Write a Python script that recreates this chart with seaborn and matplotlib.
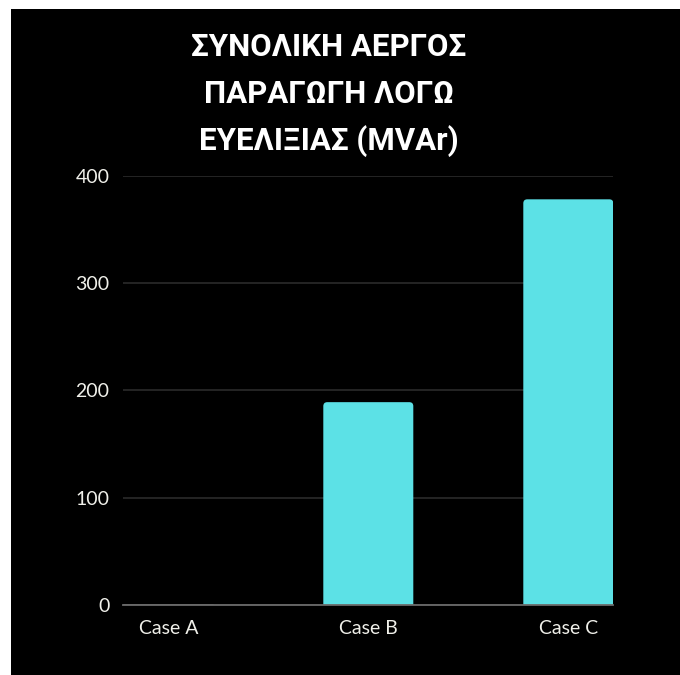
import matplotlib
matplotlib.use("Agg")
import matplotlib.pyplot as plt
from matplotlib.patches import Rectangle, PathPatch
from matplotlib.path import Path
import seaborn as sns
import pandas as pd

# ---- data ----
categories = ["Case A", "Case B", "Case C"]
values = [0, 189, 378]
y_ticks = [0, 100, 200, 300, 400]
title_lines = ["ΣΥΝΟΛΙΚΗ ΑΕΡΓΟΣ", "ΠΑΡΑΓΩΓΗ ΛΟΓΩ", "ΕΥΕΛΙΞΙΑΣ (MVAr)"]

sns.set_theme(style="dark")
plt.rcParams["font.family"] = ["Lato", "DejaVu Sans"]

W, H = 680, 675
fig = plt.figure(figsize=(W / 100, H / 100), dpi=100, facecolor="white")
bg = Rectangle((11 / W, 0), 1 - 11 / W, 1 - 9 / H, transform=fig.transFigure,
               facecolor="black", edgecolor="none", zorder=-10)
fig.patches.append(bg)

ax_left, ax_right = 123.3, 613.3
ax_bottom, ax_top = 605.0, 175.7
ax = fig.add_axes([ax_left / W, (H - ax_bottom) / H,
                   (ax_right - ax_left) / W, (ax_bottom - ax_top) / H])
ax.set_facecolor("none")

df = pd.DataFrame({"case": categories, "value": values})
sns.barplot(data=df, x="case", y="value", color="#5ce1e6", saturation=1,
            width=0.45, ax=ax, zorder=3)

ax.set_xlim(-0.225, 2.225)
ax.set_ylim(0, 400)
ax.set_yticks(y_ticks)
ax.set_xlabel("")
ax.set_ylabel("")

# rounded top corners, reshaping seaborn's own bar patches
px_x = 1 / 200.0                     # x data units per pixel
px_y = 400 / (ax_bottom - ax_top)    # y data units per pixel
rad = 4.0
rx, ry = rad * px_x, rad * px_y
for p in list(ax.patches):
    x, y = p.get_x(), p.get_y()
    w, h = p.get_width(), p.get_height()
    if h <= 0:
        continue
    p.set_visible(False)
    top = y + h
    verts = [
        (x, y), (x, top - ry),
        (x, top), (x + rx, top),
        (x + w - rx, top),
        (x + w, top), (x + w, top - ry),
        (x + w, y), (x, y),
    ]
    codes = [Path.MOVETO, Path.LINETO,
             Path.CURVE3, Path.CURVE3,
             Path.LINETO,
             Path.CURVE3, Path.CURVE3,
             Path.LINETO, Path.CLOSEPOLY]
    ax.add_patch(PathPatch(Path(verts, codes), facecolor="#5ce1e6",
                           edgecolor="none", zorder=3))

ax.yaxis.grid(True, color="#2e2e2e", linewidth=1.1)
ax.xaxis.grid(False)
ax.set_axisbelow(True)
for s in ["top", "right", "left"]:
    ax.spines[s].set_visible(False)
ax.spines["bottom"].set_color("#6b6b6b")
ax.spines["bottom"].set_linewidth(1.3)
ax.spines["bottom"].set_zorder(4)

ax.tick_params(axis="y", length=0, pad=10, labelsize=14, labelcolor="#f0f0ea")
ax.tick_params(axis="x", length=0, pad=10.5, labelsize=14, labelcolor="#f0f0ea")
for lab in ax.get_xticklabels() + ax.get_yticklabels():
    lab.set_fontfamily(["Lato", "DejaVu Sans"])

baselines = [56, 103.3, 150]
for line, yb in zip(title_lines, baselines):
    fig.text(329 / W, 1 - yb / H, line, ha="center", va="baseline",
             color="white", fontsize=22.5, fontweight="bold",
             family=["Roboto", "DejaVu Sans"])

fig.savefig("out.png", dpi=100, facecolor=fig.get_facecolor())
